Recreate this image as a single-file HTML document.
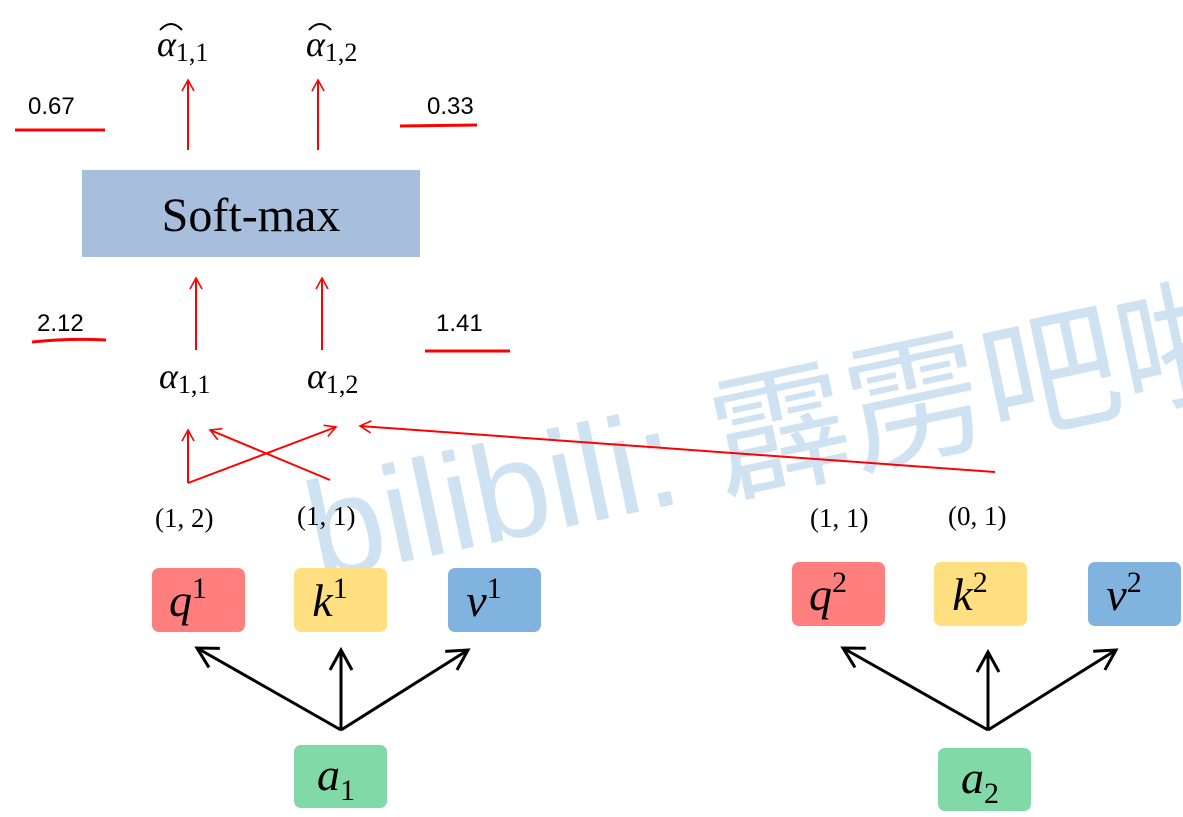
<!DOCTYPE html>
<html><head><meta charset="utf-8"><style>
html,body{margin:0;padding:0;background:#fff;}
svg{display:block;}
.m{font-family:"Liberation Serif","DejaVu Serif",serif;font-style:italic;}
.s{font-family:"Liberation Serif","DejaVu Serif",serif;}
.n{font-family:"Liberation Sans","DejaVu Sans",sans-serif;}
</style></head><body>
<svg width="1183" height="817" viewBox="0 0 1183 817">
<defs>
<marker id="ar" markerWidth="14" markerHeight="14" refX="12" refY="7" orient="auto" markerUnits="userSpaceOnUse"><path d="M1,1 L12,7 L1,13" fill="none" stroke="#ff0000" stroke-width="1.6"/></marker>
<marker id="ab" markerWidth="26" markerHeight="26" refX="22" refY="13" orient="auto" markerUnits="userSpaceOnUse"><path d="M2,2 L22,13 L2,24" fill="none" stroke="#000" stroke-width="3"/></marker>
</defs>
<text x="318" y="580" transform="rotate(-12 318 580)" font-size="138" fill="#cfe2f1" font-family="'Liberation Sans','Noto Sans CJK SC',sans-serif">bilibili: 霹雳吧啦</text>

<g class="m" font-size="36" fill="#000">
<text x="157" y="56">α<tspan font-size="26" font-style="normal" dy="5">1,1</tspan></text>
<path d="M160,30 Q171,18 182,30" fill="none" stroke="#000" stroke-width="2"/>
<text x="306" y="56">α<tspan font-size="26" font-style="normal" dy="5">1,2</tspan></text>
<path d="M309,30 Q320,18 331,30" fill="none" stroke="#000" stroke-width="2"/>
</g>
<g stroke="#ff0000" stroke-width="2" fill="none">
<line x1="188" y1="150" x2="188" y2="80" marker-end="url(#ar)"/>
<line x1="318" y1="150" x2="318" y2="80" marker-end="url(#ar)"/>
<line x1="15" y1="130" x2="105" y2="130" stroke-width="3"/>
<line x1="400" y1="126" x2="477" y2="125" stroke-width="3"/>
<line x1="196" y1="350" x2="196" y2="278" marker-end="url(#ar)"/>
<line x1="322" y1="350" x2="322" y2="278" marker-end="url(#ar)"/>
<path d="M32,342 Q70,338 106,340" stroke-width="3"/>
<line x1="425" y1="351" x2="510" y2="351" stroke-width="3"/>
<line x1="188" y1="483" x2="188" y2="430" marker-end="url(#ar)"/>
<line x1="188" y1="483" x2="336" y2="427" marker-end="url(#ar)"/>
<line x1="330" y1="480" x2="210" y2="430" marker-end="url(#ar)"/>
<line x1="995" y1="472" x2="360" y2="426" marker-end="url(#ar)"/>
</g>
<g class="n" font-size="24" fill="#000">
<text x="28" y="114">0.67</text>
<text x="427" y="114">0.33</text>
<text x="37" y="331">2.12</text>
<text x="436" y="331">1.41</text>
</g>
<rect x="82" y="170" width="338" height="87" fill="#a7bfdc"/>
<text class="s" x="251" y="231" font-size="48" text-anchor="middle">Soft-max</text>
<g class="m" font-size="36" fill="#000">
<text x="159" y="388">α<tspan font-size="26" font-style="normal" dy="5">1,1</tspan></text>
<text x="307" y="388">α<tspan font-size="26" font-style="normal" dy="5">1,2</tspan></text>
</g>
<g class="s" font-size="27" fill="#000">
<text x="155" y="527">(1, 2)</text>
<text x="297" y="525">(1, 1)</text>
<text x="810" y="527">(1, 1)</text>
<text x="948" y="525">(0, 1)</text>
</g>
<g class="m" font-size="46" fill="#000" text-anchor="middle">
<rect x="152" y="568" width="93" height="64" rx="7" fill="#ff7f7f"/>
<text x="188" y="616">q<tspan font-size="30" font-style="normal" dy="-18">1</tspan></text>
<rect x="294" y="568" width="93" height="64" rx="7" fill="#ffdf80"/>
<text x="330" y="616">k<tspan font-size="30" font-style="normal" dy="-18">1</tspan></text>
<rect x="448" y="568" width="93" height="64" rx="7" fill="#80b3dd"/>
<text x="484" y="616">v<tspan font-size="30" font-style="normal" dy="-18">1</tspan></text>
<rect x="792" y="562" width="93" height="64" rx="7" fill="#ff7f7f"/>
<text x="828" y="610">q<tspan font-size="30" font-style="normal" dy="-18">2</tspan></text>
<rect x="934" y="562" width="93" height="64" rx="7" fill="#ffdf80"/>
<text x="970" y="610">k<tspan font-size="30" font-style="normal" dy="-18">2</tspan></text>
<rect x="1088" y="562" width="93" height="64" rx="7" fill="#80b3dd"/>
<text x="1124" y="610">v<tspan font-size="30" font-style="normal" dy="-18">2</tspan></text>
<rect x="294" y="745" width="93" height="63" rx="7" fill="#80d9a6"/>
<text x="336" y="790">a<tspan font-size="30" font-style="normal" dy="10">1</tspan></text>
<rect x="938" y="748" width="93" height="63" rx="7" fill="#80d9a6"/>
<text x="980" y="793">a<tspan font-size="30" font-style="normal" dy="10">2</tspan></text>
</g>
<g stroke="#000" stroke-width="3" fill="none">
<line x1="341" y1="730" x2="197" y2="648" marker-end="url(#ab)"/>
<line x1="341" y1="730" x2="341" y2="650" marker-end="url(#ab)"/>
<line x1="341" y1="730" x2="468" y2="650" marker-end="url(#ab)"/>
<line x1="988" y1="730" x2="843" y2="648" marker-end="url(#ab)"/>
<line x1="988" y1="730" x2="988" y2="652" marker-end="url(#ab)"/>
<line x1="988" y1="730" x2="1116" y2="650" marker-end="url(#ab)"/>
</g>
</svg>
</body></html>
